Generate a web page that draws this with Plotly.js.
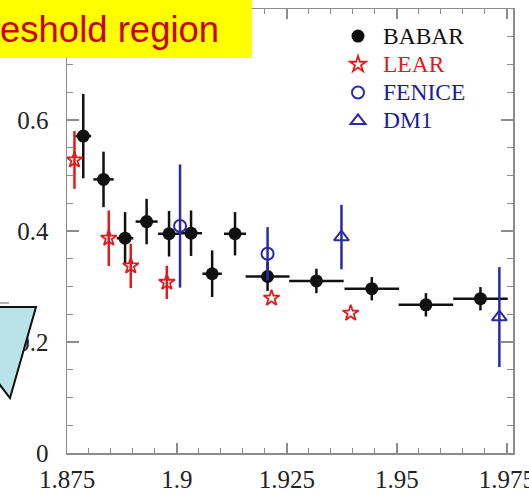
<!DOCTYPE html>
<html>
<head>
<meta charset="utf-8">
<script src="https://cdn.plot.ly/plotly-3.0.1.min.js"></script>
<style>html,body{margin:0;padding:0;background:#fff;}#chart{width:529px;height:499px;}</style>
</head>
<body>
<div id="chart"></div>
<script>
// BABAR
const babarX    = [1.8787, 1.8833, 1.8882, 1.8931, 1.8982, 1.9032, 1.9080, 1.9132, 1.9206, 1.9317, 1.9443, 1.9566, 1.9690];
const babarY    = [0.571, 0.493, 0.387, 0.417, 0.395, 0.396, 0.323, 0.395, 0.318, 0.310, 0.296, 0.267, 0.278];
const babarErr  = [0.076, 0.050, 0.047, 0.041, 0.041, 0.041, 0.042, 0.039, 0.026, 0.022, 0.021, 0.021, 0.021];
const babarXErr = [0.0018, 0.0023, 0.0019, 0.0025, 0.0025, 0.0025, 0.0022, 0.0025, 0.0050, 0.0062, 0.0062, 0.0062, 0.0062];
// LEAR
const learX   = [1.8767, 1.8845, 1.8895, 1.8977, 1.9215, 1.9395];
const learY   = [0.528, 0.387, 0.337, 0.3075, 0.279, 0.252];
const learErr = [0.052, 0.050, 0.040, 0.030, 0, 0];
// FENICE
const feniceX   = [1.9007, 1.9206];
const feniceY   = [0.409, 0.359];
const feniceErr = [0.111, 0.048];
// DM1
const dm1X   = [1.9374, 1.9733];
const dm1Y   = [0.389, 0.245];
const dm1Err = [0.058, 0.090];
// ticks
const xTicks = [1.875, 1.9, 1.925, 1.95, 1.975];
const xTickText = ['1.875', '1.9', '1.925', '1.95', '1.975'];
const yTicks = [0, 0.2, 0.4, 0.6];
const yTickText = ['0', '0.2', '0.4', '0.6'];

const W = 529, H = 499, ML = 67, MR = 16, MT = 9, MB = 46;
const PW = W - ML - MR, PH = H - MT - MB;
const px = v => (v - ML) / PW;
const py = v => (H - MB - v) / PH;

const RED = '#e01b1b', BLUE = '#2a2aa8', BLK = '#111111';
const lg = (c, t) => `<span style="color:${c};font-size:23.5px">${t}</span>`;

const traces = [
  {x: babarX, y: babarY, type: 'scatter', mode: 'markers', name: lg('#111', 'BABAR'),
   marker: {symbol: 'circle', size: 13, color: BLK},
   error_y: {type: 'data', array: babarErr, color: BLK, thickness: 2.5, width: 0},
   error_x: {type: 'data', array: babarXErr, color: BLK, thickness: 2.5, width: 0}},
  {x: learX, y: learY, type: 'scatter', mode: 'markers', name: lg('#d81e1e', 'LEAR'),
   marker: {symbol: 'star-open', size: 12, color: RED, line: {width: 1.8, color: RED}},
   error_y: {type: 'data', array: learErr, color: RED, thickness: 2.5, width: 0}},
  {x: feniceX, y: feniceY, type: 'scatter', mode: 'markers', name: lg('#1c1c9c', 'FENICE'),
   marker: {symbol: 'circle-open', size: 12, color: BLUE, line: {width: 2, color: BLUE}},
   error_y: {type: 'data', array: feniceErr, color: BLUE, thickness: 2.5, width: 0}},
  {x: dm1X, y: dm1Y, type: 'scatter', mode: 'markers', name: lg('#1c1c9c', 'DM1'),
   marker: {symbol: 'triangle-up-open', size: 13, color: BLUE, line: {width: 2, color: BLUE}},
   error_y: {type: 'data', array: dm1Err, color: BLUE, thickness: 2.5, width: 0}}
];

const axisCommon = {
  showgrid: false, zeroline: false, showline: true, linecolor: '#8c8c8c', linewidth: 1.5,
  ticks: 'inside', tickcolor: '#8c8c8c', mirror: 'ticks', ticklabeloverflow: 'allow',
  tickfont: {family: 'Liberation Serif, Times New Roman, serif', size: 25, color: '#222'}
};

const layout = {
  width: W, height: H,
  margin: {l: ML, r: MR, t: MT, b: MB},
  paper_bgcolor: '#fff', plot_bgcolor: '#fff',
  showlegend: true,
  legend: {x: px(333), y: py(17), xanchor: 'left', yanchor: 'top', bgcolor: 'rgba(0,0,0,0)',
           font: {family: 'Liberation Serif, Times New Roman, serif', size: 19.4, color: '#111'},
           tracegroupgap: 0, itemwidth: 40},
  xaxis: Object.assign({}, axisCommon, {range: [1.875, 1.9764], tickvals: xTicks, ticktext: xTickText,
           ticklen: 10, tickwidth: 1.5, ticklabelstandoff: 3,
           minor: {dtick: 0.005, tick0: 1.875, ticks: 'inside', ticklen: 5, tickcolor: '#8c8c8c', tickwidth: 1}}),
  yaxis: Object.assign({}, axisCommon, {range: [0, 0.8], tickvals: yTicks, ticktext: yTickText,
           ticklen: 12, tickwidth: 1.5, ticklabelstandoff: 12,
           minor: {dtick: 0.05, tick0: 0, ticks: 'inside', ticklen: 6, tickcolor: '#8c8c8c', tickwidth: 1}}),
  shapes: [
    {type: 'rect', xref: 'paper', yref: 'paper', x0: px(-5), x1: px(252), y0: py(58), y1: py(-5),
     fillcolor: '#ffff00', line: {width: 0}, layer: 'above'},
    {type: 'path', xref: 'paper', yref: 'paper', layer: 'above',
     path: `M ${px(-30)} ${py(307)} L ${px(36)} ${py(307)} L ${px(10)} ${py(398)} L ${px(-30)} ${py(346)} Z`,
     fillcolor: '#b9e3e8', line: {color: '#111', width: 2}},
    {type: 'line', xref: 'paper', yref: 'paper', layer: 'above', x0: px(0), x1: px(9), y0: py(303), y1: py(303),
     line: {color: '#999', width: 1.5}}
  ],
  annotations: [
    {xref: 'paper', yref: 'paper', x: px(221), y: py(30), xanchor: 'right', yanchor: 'middle', showarrow: false,
     text: 'eshold region', font: {family: 'Liberation Sans, Arial, sans-serif', size: 36.5, color: '#cc0000'}}
  ]
};

Plotly.newPlot('chart', traces, layout, {displayModeBar: false, staticPlot: true});
</script>
</body>
</html>
